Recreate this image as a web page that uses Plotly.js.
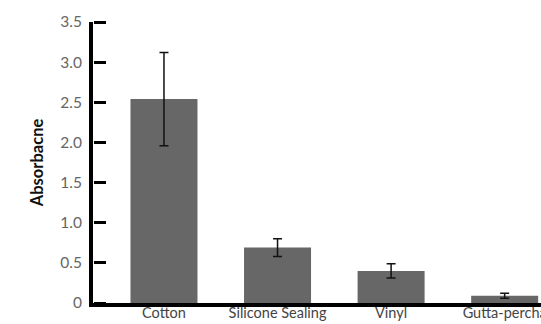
<!DOCTYPE html>
<html>
<head>
<meta charset="utf-8">
<script src="https://cdn.plot.ly/plotly-3.0.1.min.js"></script>
<style>html,body{margin:0;padding:0;background:#fff;}#chart{width:541px;height:324px;}</style>
</head>
<body>
<div id="chart"></div>
<script>
const categories = ["Cotton", "Silicone Sealing", "Vinyl", "Gutta-percha"];
const absorbance = [2.54, 0.69, 0.40, 0.09];
const errors = [0.58, 0.11, 0.09, 0.03];
const yTickVals = [0, 0.5, 1.0, 1.5, 2.0, 2.5, 3.0, 3.5];
const yTickText = ["0", "0.5", "1.0", "1.5", "2.0", "2.5", "3.0", "3.5"];

const bars = {
  type: "bar",
  x: [0, 1, 2, 3],
  y: absorbance,
  width: 0.59,
  marker: {color: "#676767"},
  error_y: {type: "data", array: errors, visible: true, color: "#111", thickness: 1.5, width: 4.5}
};
// invisible companion so the tick-only axis on the left edge gets drawn
const tickHolder = {
  type: "scatter", mode: "markers",
  x: [0, 3], y: [0, 3.5], yaxis: "y2",
  marker: {opacity: 0}, hoverinfo: "skip", showlegend: false
};

const layout = {
  width: 541, height: 324,
  margin: {l: 93, r: 0, t: 22, b: 21, pad: 0},
  paper_bgcolor: "#fff", plot_bgcolor: "#fff",
  showlegend: false,
  font: {family: "Lato, 'Open Sans', sans-serif", color: "#555", size: 13},
  xaxis: {
    range: [-0.625, 3.32],
    tickvals: [0, 1, 2, 3], ticktext: categories,
    showline: true, linecolor: "#000", linewidth: 4,
    ticks: "", showgrid: false, zeroline: false, automargin: false,
    ticklabeloverflow: "allow", ticklabelstandoff: -6,
    tickfont: {size: 14.5, color: "#444"}
  },
  yaxis: {
    range: [0, 3.5],
    tickvals: yTickVals, ticktext: yTickText,
    showline: true, linecolor: "#000", linewidth: 4,
    ticks: "", showgrid: false, zeroline: false, automargin: false,
    ticklabelstandoff: 4,
    tickfont: {size: 15.5, color: "#666"},
    title: {text: "Absorbacne", font: {size: 16.5, color: "#111", weight: "bold"}, standoff: 13}
  },
  yaxis2: {
    overlaying: "y", anchor: "free", position: 0, side: "right",
    range: [0, 3.5], tickvals: yTickVals,
    showticklabels: false, showline: false, showgrid: false, zeroline: false,
    ticks: "outside", ticklen: 12, tickwidth: 3, tickcolor: "#000", automargin: false
  }
};

Plotly.newPlot("chart", [bars, tickHolder], layout, {displayModeBar: false});
</script>
</body>
</html>
